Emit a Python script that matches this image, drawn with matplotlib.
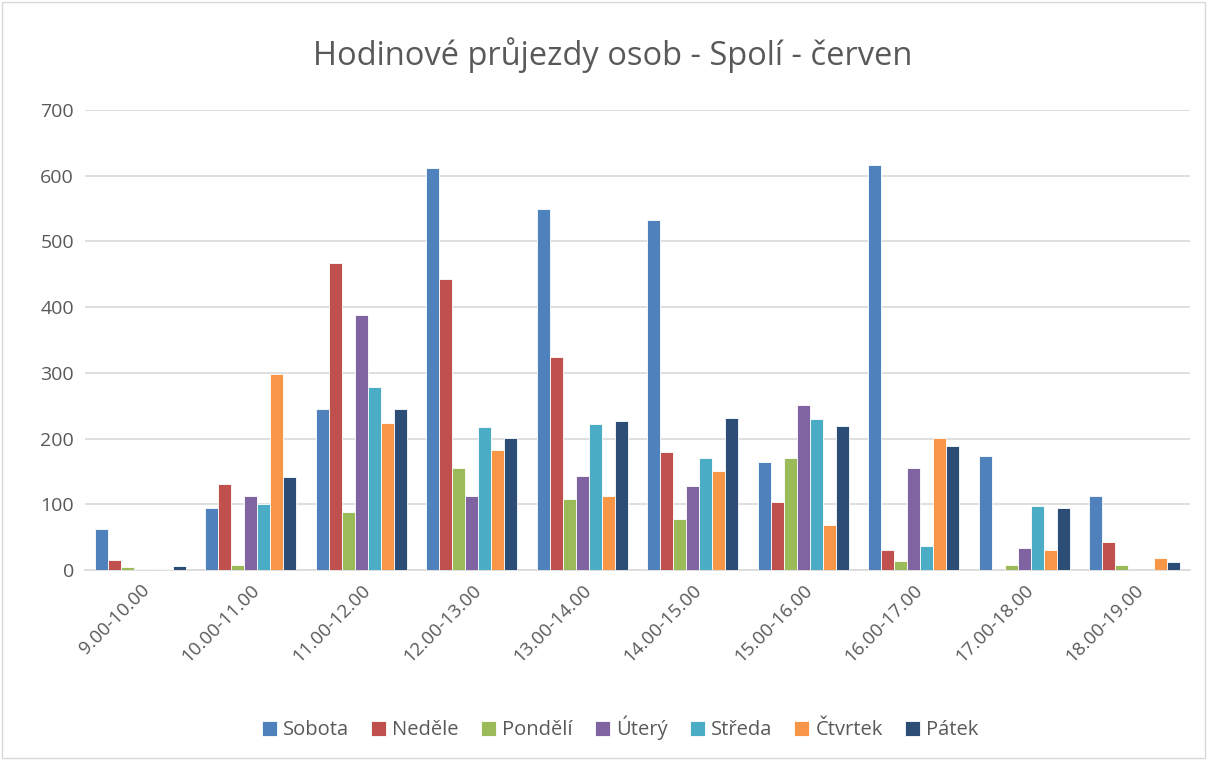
import matplotlib
matplotlib.use("Agg")
import matplotlib.pyplot as plt
import numpy as np
from matplotlib.patches import Rectangle

categories = ["9.00-10.00", "10.00-11.00", "11.00-12.00", "12.00-13.00", "13.00-14.00",
              "14.00-15.00", "15.00-16.00", "16.00-17.00", "17.00-18.00", "18.00-19.00"]
series_names = ["Sobota", "Neděle", "Pondělí", "Úterý", "Středa", "Čtvrtek", "Pátek"]
sobota  = [62, 95, 245, 611, 549, 532, 164, 617, 174, 113]
nedele  = [15, 131, 467, 443, 324, 179, 104, 30, 0, 42]
pondeli = [5, 7, 89, 155, 108, 78, 170, 14, 7, 7]
utery   = [2, 113, 388, 112, 143, 128, 251, 155, 33, 0]
streda  = [2, 100, 279, 217, 222, 170, 230, 36, 97, 0]
ctvrtek = [2, 298, 224, 182, 113, 150, 68, 201, 31, 19]
patek   = [6, 142, 245, 201, 227, 232, 219, 188, 94, 12]
yticks = [0, 100, 200, 300, 400, 500, 600, 700]
title = "Hodinové průjezdy osob - Spolí - červen"

series = [sobota, nedele, pondeli, utery, streda, ctvrtek, patek]
colors = ["#4F81BD", "#C0504D", "#9BBB59", "#8064A2", "#4BACC6", "#F79646", "#2C4D75"]

plt.rcParams['font.family'] = ['Open Sans', 'DejaVu Sans']

fig = plt.figure(figsize=(12.07, 7.6), dpi=100)
ax = fig.add_axes([85/1207, 1 - 570/760, (1190-85)/1207, (570-110)/760])

x = np.arange(len(categories))
pitch = 0.118
for i, (name, vals, c) in enumerate(zip(series_names, series, colors)):
    ax.bar(x + (i - 3) * pitch, vals, width=pitch, color=c, edgecolor='white',
           linewidth=0.6, label=name, zorder=3)

ax.set_xlim(-0.5, len(categories) - 0.5)
ax.set_ylim(0, 700)
ax.set_yticks(yticks)
ax.set_yticklabels([str(v) for v in yticks], fontsize=14, color='#595959')
ax.yaxis.grid(True, color='#D9D9D9', linewidth=1.2, zorder=0)
ax.tick_params(axis='both', length=0, pad=8)
ax.set_xticks(x)
ax.set_xticklabels(categories, rotation=45, ha='right', rotation_mode='anchor',
                   fontsize=13.5, color='#595959')
for s in ['top', 'right', 'left']:
    ax.spines[s].set_visible(False)
ax.spines['bottom'].set_color('#D9D9D9')
ax.spines['bottom'].set_linewidth(1.2)

fig.text(613/1207, 1 - 55/760, title, ha='center', va='center', fontsize=23.5, color='#595959')

leg = fig.legend(loc='center', bbox_to_anchor=(620/1207, 1 - 728/760), ncol=7, frameon=False,
                 fontsize=14.5, handlelength=0.75, handleheight=0.75, handletextpad=0.3,
                 columnspacing=1.1)
for t in leg.get_texts():
    t.set_color('#595959')

fig.patches.append(Rectangle((0.002, 0.002), 0.996, 0.996, transform=fig.transFigure,
                             fill=False, edgecolor='#D9D9D9', linewidth=1))

fig.savefig("out.png", dpi=100, facecolor='white')
